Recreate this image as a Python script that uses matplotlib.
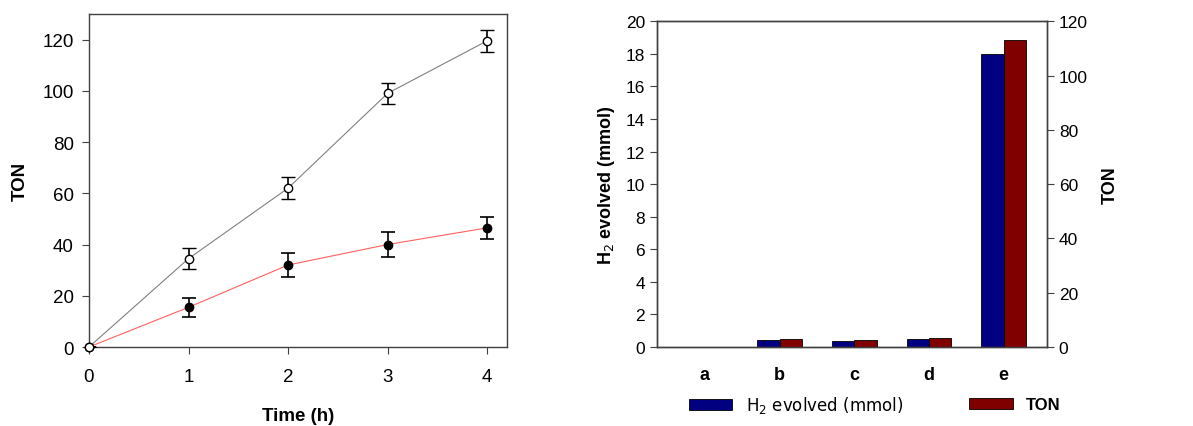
import numpy as np
import matplotlib
matplotlib.use("Agg")
import matplotlib.pyplot as plt
from matplotlib.patches import Patch

plt.rcParams['font.family'] = ['Liberation Sans', 'DejaVu Sans']

# left panel: TON vs time
time_h = [0, 1, 2, 3, 4]
ton_open = [0, 34.5, 62, 99, 119.5]
ton_open_err = [0, 4.2, 4.3, 4.2, 4.2]
ton_filled = [0, 15.5, 32, 40, 46.5]
ton_filled_err = [0, 3.8, 4.8, 4.8, 4.3]

# right panel: bars
categories = ['a', 'b', 'c', 'd', 'e']
h2_mmol = [0, 0.45, 0.38, 0.48, 18.0]
ton_bar = [0, 3.1, 2.6, 3.3, 113]


def main():
    fig = plt.figure(figsize=(11.93, 4.27), dpi=100)

    # ---- left
    ax = fig.add_axes([0.0746, 0.185, 0.3504, 0.78])
    ax.plot(time_h, ton_open, color='#808080', lw=0.8, zorder=2)
    ax.plot(time_h, ton_filled, color='#ff6060', lw=0.8, zorder=2)
    eb1 = ax.errorbar(time_h, ton_filled, yerr=ton_filled_err, fmt='o', mfc='black', mec='black',
                      ms=6, ecolor='black', elinewidth=1.2, capsize=5, capthick=1.2, zorder=3)
    eb2 = ax.errorbar(time_h, ton_open, yerr=ton_open_err, fmt='o', mfc='white', mec='black',
                      ms=6, mew=1, ecolor='black', elinewidth=1.2, capsize=5, capthick=1.2, zorder=4)
    for eb in (eb1, eb2):
        eb[0].set_clip_on(False)
    ax.set_xlim(0, 4.2)
    ax.set_ylim(0, 130)
    ax.set_xticks([0, 1, 2, 3, 4])
    ax.set_yticks(np.arange(0, 121, 20))
    ax.tick_params(direction='out', labelsize=13.5, length=5, color='#404040')
    ax.tick_params(axis='x', pad=10)
    ax.tick_params(axis='y', pad=6)
    for s in ax.spines.values():
        s.set_color('#404040')
        s.set_linewidth(1.0)
    ax.set_xlabel('Time (h)', fontsize=13.5, fontweight='bold', labelpad=16)
    ax.set_ylabel('TON', fontsize=13.5, fontweight='bold', labelpad=10)

    # ---- right
    ax2 = fig.add_axes([0.5507, 0.185, 0.3269, 0.763])
    x = np.arange(len(categories))
    w = 0.3
    ax2.bar(x - w / 2, h2_mmol, w, color='#000080', edgecolor='black', lw=0.6, zorder=2)
    ax2.set_xlim(-0.64, 4.58)
    ax2.set_ylim(0, 20)
    ax2.set_yticks(np.arange(0, 21, 2))
    ax2.set_xticks(x)
    ax2.set_xticklabels(categories, fontsize=13, fontweight='bold')
    ax2.tick_params(axis='x', length=0, pad=14)
    ax2.tick_params(axis='y', direction='out', labelsize=12.5, length=5, color='#404040')
    ax2.set_ylabel('H$_2$ evolved (mmol)', fontsize=13, fontweight='bold', labelpad=6)

    ax3 = ax2.twinx()
    ax3.bar(x + w / 2, ton_bar, w, color='#800000', edgecolor='black', lw=0.6, zorder=2)
    ax3.set_ylim(0, 120)
    ax3.set_yticks(np.arange(0, 121, 20))
    ax3.tick_params(axis='y', direction='out', labelsize=12.5, length=5, color='#404040')
    ax3.set_ylabel('TON', fontsize=13, fontweight='bold', labelpad=10)
    for a in (ax2, ax3):
        for s in a.spines.values():
            s.set_color('#404040')
            s.set_linewidth(1.0)

    fig.legend(handles=[Patch(facecolor='#000080', edgecolor='black', lw=0.6)],
               labels=['H$_2$ evolved (mmol)'], loc='center left',
               bbox_to_anchor=(0.565, 0.05), frameon=False, handlelength=2.6,
               handleheight=0.6, prop={'family': 'DejaVu Sans', 'size': 12})
    fig.legend(handles=[Patch(facecolor='#800000', edgecolor='black', lw=0.6)],
               labels=['TON'], loc='center left',
               bbox_to_anchor=(0.8, 0.05), frameon=False, handlelength=2.6,
               handleheight=0.6, prop={'size': 12, 'weight': 'bold'})

    fig.savefig('out.png', dpi=100)


if __name__ == '__main__':
    main()
